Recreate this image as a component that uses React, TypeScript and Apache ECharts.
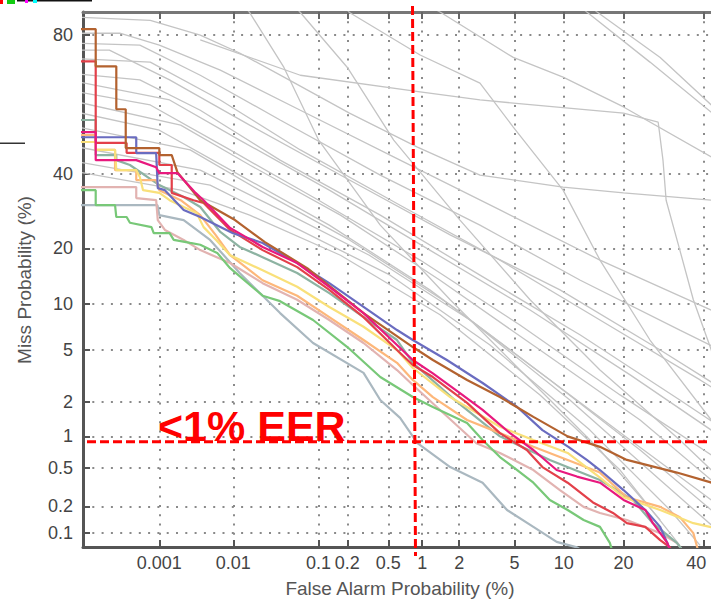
import React, { useEffect, useRef } from "react";
import * as echarts from "echarts";

// ---- axes (probabilities in %) ----
const X_TICKS = [0.001, 0.01, 0.1, 0.2, 0.5, 1, 2, 5, 10, 20, 40];
const X_TICK_LABELS = ["0.001", "0.01", "0.1", "0.2", "0.5", "1", "2", "5", "10", "20", "40"];
const Y_TICKS = [80, 40, 20, 10, 5, 2, 1, 0.5, 0.2, 0.1];
const Y_TICK_LABELS = ["80", "40", "20", "10", "5", "2", "1", "0.5", "0.2", "0.1"];
const FA_RANGE = [0.000069, 50.7];
const MISS_RANGE = [0.0688, 84.7];
const EER_FA = 0.85;
const EER_MISS = 0.89;

// ---- highlighted systems: [false alarm %, miss %] ----
const BROWN: number[][] = [[0.00004,81.3],[0.00011,81.3],[0.00011,72.4],[0.00023,72.4],[0.00023,60.1],[0.00032,60.1],[0.00032,48.0],[0.0010,48.0],[0.0010,45.8],[0.0015,45.8],[0.0018,40.5],[0.0037,32.2],[0.0105,26.8],[0.0245,21.4],[0.075,15.9],[0.29,8.8],[0.83,5.25],[1.23,4.24],[2.3,3.0],[3.98,2.19],[6.6,1.49],[10.5,1.0],[15.5,0.80],[20.7,0.60],[32.7,0.45],[41.9,0.36],[50.7,0.28]];
const BLUE: number[][] = [[0.00004,51.4],[0.00046,51.4],[0.00046,46.4],[0.0009,46.4],[0.00095,35.7],[0.0012,35.1],[0.0022,29.5],[0.0037,27.6],[0.0099,23.5],[0.023,21.2],[0.058,16.9],[0.13,13.2],[0.29,9.6],[0.60,6.85],[0.83,5.87],[1.6,4.24],[3.0,2.84],[5.2,1.81],[7.5,1.14],[10.6,0.80],[13.3,0.60],[15.5,0.477],[20,0.298],[24.8,0.182],[28.4,0.118],[30.2,0.077],[31.9,0.048]];
const MAGENTA: number[][] = [[0.00004,53.0],[0.00011,53.0],[0.00011,44.2],[0.00046,44.2],[0.0009,42.0],[0.0010,40.2],[0.0018,40.2],[0.0022,38.1],[0.0027,36.0],[0.0032,34.3],[0.0041,32.2],[0.0091,24.8],[0.023,20.3],[0.058,16.9],[0.13,12.6],[0.29,8.8],[0.60,5.43],[0.83,4.24],[1.23,3.37],[2.03,2.36],[3.0,1.71],[4.66,1.07],[6.6,0.747],[9.1,0.477],[11.8,0.41],[15.5,0.355],[20,0.234],[24.8,0.182],[26.6,0.13],[30.2,0.077],[31.9,0.048]];
const RED: number[][] = [[0.00004,73.7],[0.00011,73.7],[0.00011,49.6],[0.00033,49.6],[0.00033,46.5],[0.0010,46.5],[0.0010,42.7],[0.0015,42.7],[0.0015,34.3],[0.0030,32.2],[0.0041,31.4],[0.0091,24.3],[0.023,19.6],[0.058,16.1],[0.13,12.1],[0.29,8.3],[0.60,5.0],[0.83,3.9],[1.23,3.16],[2.3,1.96],[3.98,1.07],[6.0,0.747],[7.5,0.51],[10.5,0.355],[14.3,0.22],[17.9,0.169],[20.7,0.13],[24.8,0.118],[28.4,0.083],[30.9,0.068],[32.2,0.048]];
const YELLOW: number[][] = [[0.00004,49.9],[0.00011,49.9],[0.00011,47.4],[0.00022,47.4],[0.00023,41.1],[0.00046,41.1],[0.00052,39.0],[0.00058,35.1],[0.0010,34.3],[0.0014,32.2],[0.0022,30.3],[0.0033,28.7],[0.0041,25.0],[0.006,21.9],[0.0091,18.5],[0.023,15.5],[0.058,12.6],[0.13,9.6],[0.29,7.2],[0.60,5.0],[0.83,3.7],[1.70,2.19],[3.98,1.22],[6.6,0.926],[10.5,0.70],[15.5,0.40],[20,0.25],[28.4,0.182],[37.2,0.13],[41.9,0.118],[50.7,0.096]];
const ORANGE: number[][] = [[0.00004,52.1],[0.00011,52.1],[0.00011,47.4],[0.00022,47.4],[0.00022,41.1],[0.00046,41.1],[0.00046,38.1],[0.0009,38.1],[0.0010,35.1],[0.0020,32.2],[0.0037,28.1],[0.0059,23.1],[0.0091,18.5],[0.023,13.7],[0.058,11.2],[0.13,8.3],[0.29,5.87],[0.60,4.04],[0.83,3.0],[1.23,2.19],[2.3,1.40],[3.98,1.07],[6.6,0.80],[10.5,0.60],[15.5,0.45],[20.7,0.25],[28.4,0.197],[33.5,0.152],[37.2,0.10],[38.3,0.068],[39.1,0.048]];
const GREEN: number[][] = [[0.00004,35.1],[0.00011,35.1],[0.00011,30.8],[0.00022,30.8],[0.00023,27.6],[0.00033,27.6],[0.00037,26.1],[0.00077,25.0],[0.00083,23.5],[0.0014,23.5],[0.0016,21.9],[0.0027,21.2],[0.0037,20.8],[0.0062,19.0],[0.0091,15.9],[0.023,11.2],[0.037,10.4],[0.087,7.96],[0.20,5.25],[0.42,3.16],[0.83,2.19],[1.23,1.81],[2.3,1.32],[3.0,0.926],[3.98,0.64],[5.2,0.477],[6.6,0.355],[8.3,0.234],[10.5,0.182],[12.8,0.141],[15.5,0.118],[17.3,0.077],[18.3,0.048]];
const TEAL: number[][] = [[0.00004,56.8],[0.00011,56.8],[0.00011,45.8],[0.00023,45.8],[0.00023,44.2],[0.00037,42.7],[0.0010,36.6],[0.0022,33.1],[0.0037,30.3],[0.0068,23.8],[0.012,20.3],[0.023,18.1],[0.058,15.0],[0.13,11.6],[0.29,8.3],[0.60,5.87],[0.83,4.04],[1.85,2.07],[3.98,1.0],[8.3,0.60],[15.5,0.378],[22,0.234],[26.6,0.13],[32.7,0.077],[36.3,0.048]];
const PINK: number[][] = [[0.00004,36.0],[0.00046,36.0],[0.00046,32.8],[0.0009,32.2],[0.00095,26.8],[0.0012,24.3],[0.0022,21.9],[0.0037,19.6],[0.0091,16.9],[0.023,13.2],[0.058,10.6],[0.13,7.96],[0.29,5.6],[0.60,3.57],[0.83,2.74],[1.41,1.71],[2.7,0.865],[3.98,0.70],[6.6,0.477],[9.5,0.298],[12.8,0.197],[15.5,0.169],[20.7,0.141],[28.4,0.10],[32.7,0.077],[36.3,0.048]];
const GRAYBLUE: number[][] = [[0.00004,30.8],[0.00094,30.8],[0.0010,28.1],[0.0022,26.8],[0.0050,21.9],[0.012,15.0],[0.037,8.8],[0.087,5.6],[0.29,3.4],[0.42,2.07],[0.64,1.46],[0.91,0.865],[1.70,0.51],[3.0,0.355],[4.45,0.182],[6.6,0.118],[9.1,0.079],[11.8,0.068],[13.8,0.055]];

// ---- other systems (grey) ----
const G01: number[][] = [[9.5,88.4],[13.3,84.7],[25.9,73.5],[42.3,59.2],[50.7,52.1]];
const G02: number[][] = [[10.8,88.4],[15.0,84.7],[28.4,74.7],[42.3,61.4],[50.7,54.3]];
const G03: number[][] = [[0.64,88.4],[1.41,84.7],[4.9,74.7],[9.9,69.5],[20,60.8],[42.3,45.2],[50.7,40.5]];
const G04: number[][] = [[0.0037,78.9],[0.063,70.0],[0.96,65.3],[2.87,62.9],[20,58.9],[27.9,56.1],[29.1,44.2],[29.9,32.2],[33.5,19.6],[37.2,10.6],[42.3,5.0],[46.3,2.07]];
const G05: number[][] = [[0.13,88.4],[0.21,84.6],[0.96,75.3],[2.87,67.8],[4.9,54.6],[9.9,35.1],[15.5,17.5],[25.9,5.87],[42.3,1.40]];
const G06: number[][] = [[0.0091,88.4],[0.016,84.6],[0.041,72.1],[0.10,50.5],[0.42,25.5],[1.70,10.6],[6.29,3.0],[15.5,0.747],[28.4,0.141]];
const G07: number[][] = [[0.037,88.4],[0.063,84.6],[0.20,72.1],[0.56,50.5],[2.03,26.8],[6.29,10.6],[15.5,3.57],[33.5,0.926],[42.3,0.477]];
const G08: number[][] = [[0.00004,83.8],[0.00074,83.1],[0.0037,80.0],[0.012,75.8],[0.041,69.5],[0.21,58.9],[0.91,48.3],[2.87,39.6],[9.9,36.0],[20,34.3],[42.3,32.2],[50.7,31.4]];
const G09: number[][] = [[0.00004,80.4],[0.00026,80.4],[0.0010,77.7],[0.0068,71.4],[0.063,59.8],[0.64,44.2],[3.98,29.5],[15.5,17.5],[42.3,9.19],[50.7,7.4]];
const G10: number[][] = [[0.00004,78.2],[0.00052,77.7],[0.0037,70.0],[0.037,56.8],[0.42,39.6],[2.87,25.5],[12.3,13.7],[33.5,6.85],[50.7,4.24]];
const G11: number[][] = [[0.00004,76.5],[0.00018,76.5],[0.0014,68.7],[0.016,55.2],[0.21,38.1],[1.70,23.1],[9.51,12.1],[28.4,5.0],[50.7,2.07]];
const G12: number[][] = [[0.00004,74.5],[0.00074,73.5],[0.0068,62.9],[0.063,47.4],[0.64,30.8],[3.98,17.5],[15.5,7.96],[39.1,3.0],[50.7,1.88]];
const G13: number[][] = [[0.00004,70.6],[0.00052,68.7],[0.0037,59.8],[0.037,44.2],[0.42,28.1],[2.87,14.6],[12.3,6.35],[33.5,2.07],[50.7,0.926]];
const G14: number[][] = [[0.00004,68.7],[0.0014,62.9],[0.012,50.5],[0.13,35.1],[1.16,19.6],[6.29,9.19],[21.4,3.28],[42.3,1.14],[50.7,0.747]];
const G15: number[][] = [[0.00004,65.8],[0.00074,61.4],[0.0091,47.4],[0.10,32.2],[0.96,17.5],[5.42,7.4],[19.3,2.28],[42.3,0.67],[50.7,0.477]];
const G16: number[][] = [[0.00004,62.9],[0.0020,55.2],[0.016,42.7],[0.17,28.1],[1.41,13.7],[7.25,5.0],[23.6,1.40],[42.3,0.378],[50.7,0.234]];
const G17: number[][] = [[0.00004,59.8],[0.0010,53.6],[0.012,39.6],[0.13,25.5],[1.16,12.1],[6.29,3.9],[21.4,0.926],[42.3,0.234],[50.7,0.141]];
const G18: number[][] = [[0.00004,55.2],[0.0027,47.4],[0.021,35.1],[0.21,21.9],[1.70,9.9],[8.32,3.0],[23.6,0.747],[42.3,0.182],[50.7,0.109]];
const G19: number[][] = [[0.00004,48.9],[0.0037,41.1],[0.037,29.5],[0.33,18.5],[2.42,7.96],[10.8,2.07],[28.4,0.378],[42.3,0.124],[50.7,0.072]];
const G20: number[][] = [[0.00004,44.2],[0.0050,36.6],[0.048,25.5],[0.52,14.6],[3.39,5.43],[13.8,1.14],[30.9,0.182],[39.1,0.072]];
const G21: number[][] = [[0.00004,41.1],[0.0020,35.1],[0.016,28.1],[0.17,18.5],[1.41,8.6],[7.25,2.28],[19.3,0.477],[33.5,0.072]];

const GREY_SYSTEMS = [G01, G02, G03, G04, G05, G06, G07, G08, G09, G10, G11, G12, G13, G14, G15, G16, G17, G18, G19, G20, G21];
const HIGHLIGHTED = [GRAYBLUE, PINK, TEAL, GREEN, ORANGE, YELLOW, RED, BLUE, BROWN, MAGENTA];
const HIGHLIGHT_COLORS = ["#aab8c0", "#e2b3b1", "#8db3a2", "#78c878", "#fdb77a", "#f9e07a", "#e3404a", "#6a6cc0", "#b3622f", "#e8197e"];

// inverse standard normal (Acklam)
function probit(p: number): number {
  const a = [-3.969683028665376e1, 2.209460984245205e2, -2.759285104469687e2, 1.38357751867269e2, -3.066479806614716e1, 2.506628277459239];
  const b = [-5.447609879822406e1, 1.615858368580409e2, -1.556989798598866e2, 6.680131188771972e1, -1.328068155288572e1];
  const c = [-7.784894002430293e-3, -3.223964580411365e-1, -2.400758277161838, -2.549671503929320, 4.374664141464968, 2.938163982698783];
  const d = [7.784695709041462e-3, 3.224671290700398e-1, 2.445134137142996, 3.754408661907416];
  const plow = 0.02425;
  if (p < plow) {
    const q = Math.sqrt(-2 * Math.log(p));
    return (((((c[0] * q + c[1]) * q + c[2]) * q + c[3]) * q + c[4]) * q + c[5]) / ((((d[0] * q + d[1]) * q + d[2]) * q + d[3]) * q + 1);
  }
  if (p <= 1 - plow) {
    const q = p - 0.5;
    const r = q * q;
    return ((((((a[0] * r + a[1]) * r + a[2]) * r + a[3]) * r + a[4]) * r + a[5]) * q) / (((((b[0] * r + b[1]) * r + b[2]) * r + b[3]) * r + b[4]) * r + 1);
  }
  const q = Math.sqrt(-2 * Math.log(1 - p));
  return -(((((c[0] * q + c[1]) * q + c[2]) * q + c[3]) * q + c[4]) * q + c[5]) / ((((d[0] * q + d[1]) * q + d[2]) * q + d[3]) * q + 1);
}
const z = (pct: number) => probit(pct / 100);
const toZ = (pts: number[][]) => pts.map(([fa, m]) => [z(fa), z(m)]);

const X_Z = X_TICKS.map(z);
const Y_Z = Y_TICKS.map(z);
const nearest = (vals: number[], v: number) => {
  let best = 0;
  for (let i = 1; i < vals.length; i++) if (Math.abs(vals[i] - v) < Math.abs(vals[best] - v)) best = i;
  return best;
};

const FONT = "Liberation Sans";

export default function App() {
  const ref = useRef<HTMLDivElement>(null);
  useEffect(() => {
    const chart = echarts.init(ref.current!, undefined, { renderer: "svg" });
    const gridLine = { show: true, lineStyle: { color: "#8a8a8a", width: 2, type: [2, 7.3] as any } };
    const series: any[] = [];
    GREY_SYSTEMS.forEach((s, i) =>
      series.push({
        type: "line", name: "g" + i, data: toZ(s), showSymbol: false, silent: true,
        lineStyle: { color: "#c4c4c4", width: 1.3 }, z: 2,
      })
    );
    HIGHLIGHTED.forEach((s, i) =>
      series.push({
        type: "line", name: "h" + i, data: toZ(s), showSymbol: false, silent: true,
        lineStyle: { color: HIGHLIGHT_COLORS[i], width: 2.2 }, z: 3,
      })
    );
    const lastX = X_TICKS.length - 1;
    chart.setOption({
      animation: false,
      backgroundColor: "#fff",
      grid: { left: 83, top: 12, right: 20, bottom: 55, containLabel: false },
      xAxis: [
        {
          type: "value", min: z(FA_RANGE[0]), max: z(FA_RANGE[1]), position: "bottom",
          axisLine: { show: true, onZero: false, lineStyle: { color: "#555", width: 3 } },
          axisTick: { show: true, inside: true, length: 7, customValues: X_Z, lineStyle: { color: "#555", width: 2 } },
          axisLabel: {
            show: true, customValues: X_Z, fontSize: 18, color: "#444", fontFamily: FONT, margin: 7,
            formatter: (v: number) => {
              const i = nearest(X_Z, v);
              return i === lastX ? `{edge|${X_TICK_LABELS[i]}}` : X_TICK_LABELS[i];
            },
            rich: { edge: { fontSize: 18, color: "#444", fontFamily: FONT, padding: [0, 14, 0, 0] } },
          },
          splitLine: gridLine,
        },
        {
          type: "value", min: z(FA_RANGE[0]), max: z(FA_RANGE[1]), position: "top",
          axisLine: { show: true, onZero: false, lineStyle: { color: "#777", width: 3 } },
          axisTick: { show: true, inside: true, length: 7, customValues: X_Z, lineStyle: { color: "#666", width: 2 } },
          axisLabel: { show: false },
          splitLine: { show: false },
        },
      ],
      yAxis: {
        type: "value", min: z(MISS_RANGE[0]), max: z(MISS_RANGE[1]),
        axisLine: { show: true, onZero: false, lineStyle: { color: "#555", width: 3 } },
        axisTick: { show: true, inside: true, length: 7, customValues: Y_Z, lineStyle: { color: "#555", width: 2 } },
        axisLabel: {
          show: true, customValues: Y_Z, fontSize: 18, color: "#444", fontFamily: FONT, margin: 10,
          formatter: (v: number) => Y_TICK_LABELS[nearest(Y_Z, v)],
        },
        splitLine: gridLine,
      },
      series,
    });

    const [vx, hy] = chart.convertToPixel({ xAxisIndex: 0, yAxisIndex: 0 }, [z(EER_FA), z(EER_MISS)]) as number[];
    const dash = { stroke: "#ff0000", lineWidth: 3, lineDash: [9, 4] };
    chart.setOption({
      graphic: [
        { type: "line", shape: { x1: vx - 1.5, y1: 6, x2: vx + 1.5, y2: 556 }, style: dash, z: 100 },
        { type: "line", shape: { x1: 87, y1: hy, x2: 711, y2: hy }, style: dash, z: 100 },
        {
          type: "text", x: 158, y: hy - 16, z: 101,
          style: { text: "<1% EER", fill: "#ff0000", font: `bold 43px "${FONT}"`, textAlign: "left", textVerticalAlign: "middle" },
        },
        {
          type: "text", x: 400, y: 588, z: 50,
          style: { text: "False Alarm Probability (%)", fill: "#555", font: `19px "${FONT}"`, textAlign: "center", textVerticalAlign: "middle" },
        },
        {
          type: "text", x: 24, y: 280, rotation: Math.PI / 2, z: 50,
          style: { text: "Miss Probability (%)", fill: "#555", font: `19px "${FONT}"`, textAlign: "center", textVerticalAlign: "middle" },
        },
        // scanning artefacts at the very top-left of the picture
        { type: "rect", shape: { x: 17, y: 0, width: 75, height: 1.5 }, style: { fill: "#111" } },
        { type: "rect", shape: { x: 0, y: 0, width: 3, height: 4 }, style: { fill: "#f00" } },
        { type: "rect", shape: { x: 7, y: 0, width: 8, height: 4 }, style: { fill: "#1c1" } },
        { type: "rect", shape: { x: 25, y: 0, width: 3, height: 3 }, style: { fill: "#f0f" } },
        { type: "rect", shape: { x: 33, y: 0, width: 4, height: 3 }, style: { fill: "#0ff" } },
        { type: "rect", shape: { x: 0, y: 142.5, width: 25, height: 1.5 }, style: { fill: "#333" } },
      ],
    });
    return () => chart.dispose();
  }, []);
  return (
    <div style={{ position: "absolute", left: 0, top: 0, width: 711, height: 602, overflow: "hidden", background: "#fff" }}>
      <div ref={ref} style={{ width: 760, height: 602 }} />
    </div>
  );
}
